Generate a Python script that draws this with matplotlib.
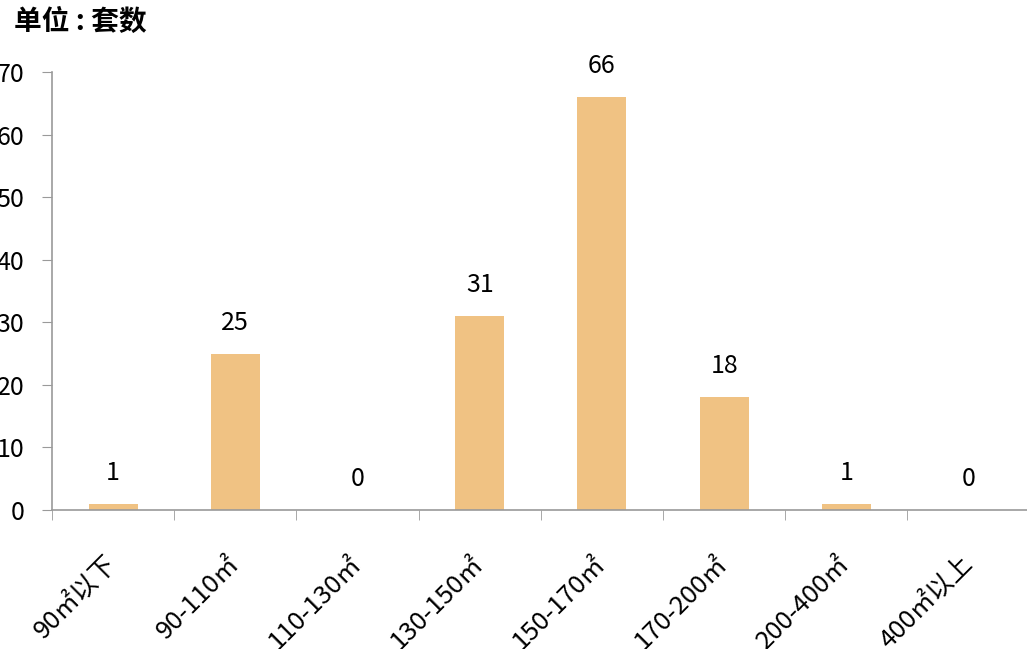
import matplotlib
matplotlib.use("Agg")
import matplotlib.pyplot as plt
import matplotlib.transforms as mtransforms
import numpy as np

plt.rcParams['font.family'] = ['Noto Sans CJK SC', 'DejaVu Sans']

categories = ['90㎡以下', '90-110㎡', '110-130㎡', '130-150㎡', '150-170㎡', '170-200㎡', '200-400㎡', '400㎡以上']
values = [1, 25, 0, 31, 66, 18, 1, 0]
yticks = [0, 10, 20, 30, 40, 50, 60, 70]
title = '单位 : 套数'

W, H = 1027, 649
fig = plt.figure(figsize=(W / 100, H / 100), dpi=100)
ax = fig.add_axes([52 / W, (H - 510) / H, 977.6 / W, (510 - 72) / H])

x = np.arange(len(categories))
ax.bar(x, values, width=0.4, color='#F0C283', zorder=2)
for xi, v in zip(x, values):
    ax.annotate(str(v), (xi, v), xytext=(0, 13), textcoords='offset points',
                ha='center', va='bottom', fontsize=18, color='black')

ax.set_xlim(-0.5, len(categories) - 0.5)
ax.set_ylim(0, 70)
ax.set_yticks(yticks)
ax.set_yticklabels([str(t) for t in yticks], fontsize=18)
ax.set_xticks(x)
ax.set_xticklabels(categories, fontsize=18.5, rotation=45, ha='right', va='center', rotation_mode='anchor')
shift = mtransforms.ScaledTranslation(-6 / 100, 0, fig.dpi_scale_trans)
for lab in ax.get_xticklabels():
    lab.set_transform(lab.get_transform() + shift)
ax.set_xticks(np.arange(-0.5, len(categories)), minor=True)
ax.tick_params(axis='x', which='major', length=0, pad=36)
ax.tick_params(axis='x', which='minor', length=7, color='#9a9a9a', direction='out')
ax.tick_params(axis='y', length=7, color='#9a9a9a', pad=13)
for s in ['top', 'right']:
    ax.spines[s].set_visible(False)
for s in ['left', 'bottom']:
    ax.spines[s].set_color('#9a9a9a')
    ax.spines[s].set_linewidth(1.2)

fig.text(14 / W, 1 - 22 / H, title, fontsize=20, fontweight='bold', ha='left', va='center')

fig.savefig('out.png', dpi=100)
